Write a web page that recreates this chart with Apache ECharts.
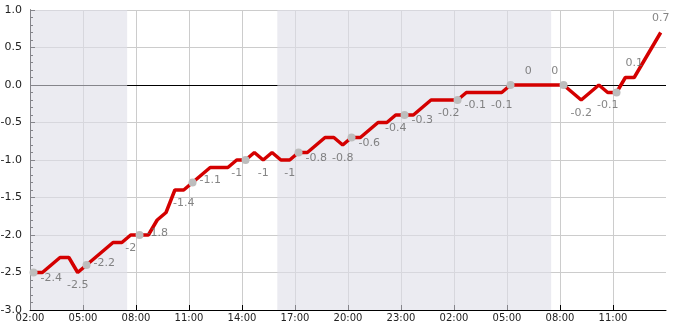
<!DOCTYPE html>
<html>
<head>
<meta charset="utf-8">
<script src="https://cdn.jsdelivr.net/npm/echarts/dist/echarts.min.js"></script>
<style>
html,body{margin:0;padding:0;background:#fff;}
#chart{width:685px;height:330px;}
</style>
</head>
<body>
<div id="chart"></div>
<script>
// Observation times (day 1 from 02:12, rolls over midnight into day 2)
const times = ['02:12','02:42','03:12','03:42','04:12','04:42','05:12','05:42','06:12','06:42',
  '07:12','07:42','08:12','08:42','09:12','09:42','10:12','10:42','11:12','11:42',
  '12:12','12:42','13:12','13:42','14:12','14:42','15:12','15:42','16:12','16:42',
  '17:12','17:42','18:12','18:42','19:12','19:42','20:12','20:42','21:12','21:42',
  '22:12','22:42','23:12','23:42','00:12','00:42','01:12','01:42','02:12','02:42',
  '03:12','03:42','04:12','04:42','05:12','05:42','06:12','06:42','07:12','07:42',
  '08:12','08:42','09:12','09:42','10:12','10:42','11:12','11:42','12:12','12:42',
  '13:12','13:42'];
// Temperature values
const values = [-2.5,-2.5,-2.4,-2.3,-2.3,-2.5,-2.4,-2.3,-2.2,-2.1,
  -2.1,-2.0,-2.0,-2.0,-1.8,-1.7,-1.4,-1.4,-1.3,-1.2,
  -1.1,-1.1,-1.1,-1.0,-1.0,-0.9,-1.0,-0.9,-1.0,-1.0,
  -0.9,-0.9,-0.8,-0.7,-0.7,-0.8,-0.7,-0.7,-0.6,-0.5,
  -0.5,-0.4,-0.4,-0.4,-0.3,-0.2,-0.2,-0.2,-0.2,-0.1,
  -0.1,-0.1,-0.1,-0.1,0,0,0,0,0,0,
  0,-0.1,-0.2,-0.1,0,-0.1,-0.1,0.1,0.1,0.3,
  0.5,0.7];
// Night periods (start, end) as day/time
const nightStarts = ['1 02:00','1 16:00'];
const nightEnds   = ['1 07:30','2 07:30'];
// Axis range
const axisStart = '1 02:00';
const axisEnd = '2 14:00';
const yTicks = [-3,-2.5,-2,-1.5,-1,-0.5,0,0.5,1];

function dayTimeToH(s){
  const [d,t] = s.split(' ');
  const [h,m] = t.split(':').map(Number);
  return (Number(d)-1)*24 + h + m/60 - 2;
}
const xs = [];
let day = 1, prevH = -1;
times.forEach(t=>{
  const h = Number(t.split(':')[0]);
  if (h < prevH) day++;
  prevH = h;
  xs.push(dayTimeToH(day+' '+t));
});
const lineData = xs.map((x,i)=>[x, values[i]]);
const dotData = lineData.filter((d,i)=>i%6===0);
const labelData = lineData.filter((d,i)=>i%3===2).map(d=>({
  value: d,
  label: { offset: d[1] >= 0 ? [0,-14] : [0,13] }
}));
const bands = nightStarts.map((s,i)=>[{xAxis: dayTimeToH(s)},{xAxis: dayTimeToH(nightEnds[i])}]);

function fmtX(v){
  const h = Math.round(v + 2) % 24;
  return (h<10?'0':'') + h + ':00';
}

const chart = echarts.init(document.getElementById('chart'), null, {renderer:'canvas'});
chart.setOption({
  animation: false,
  textStyle: { fontFamily: 'DejaVu Sans' },
  grid: { left: 30, top: 10, right: 19, bottom: 20, containLabel: false, outerBoundsMode: 'none' },
  xAxis: {
    type: 'value',
    min: dayTimeToH(axisStart),
    max: dayTimeToH(axisEnd),
    interval: 3,
    axisLine: { show: true, onZero: false, lineStyle: { color: '#000', width: 1 } },
    axisTick: { show: true, inside: true, length: 5, lineStyle: { color: '#000' } },
    axisLabel: { formatter: fmtX, color: '#222', fontSize: 10, margin: 3, showMaxLabel: false, showMinLabel: true },
    splitLine: { show: true, showMaxLine: false, lineStyle: { color: '#cccccc', width: 1 } }
  },
  yAxis: {
    type: 'value',
    min: yTicks[0],
    max: yTicks[yTicks.length-1],
    interval: 0.5,
    axisLine: { show: true, lineStyle: { color: '#000', width: 1 } },
    axisTick: { show: true, inside: true, length: 5, lineStyle: { color: '#000' } },
    minorTick: { show: true, splitNumber: 5, length: 3, lineStyle: { color: '#000' } },
    axisLabel: { formatter: v => v.toFixed(1), color: '#222', fontSize: 11, margin: 8 },
    splitLine: { show: true, lineStyle: { color: '#cccccc', width: 1 } }
  },
  series: [
    {
      type: 'line',
      name: 'bands',
      data: [],
      markArea: {
        silent: true,
        z: 2,
        itemStyle: { color: 'rgba(222,222,232,0.6)' },
        data: bands
      },
      markLine: {
        silent: true,
        z: 1,
        symbol: 'none',
        label: { show: false },
        lineStyle: { color: '#000', width: 1, type: 'solid' },
        data: [{ yAxis: 0 }]
      }
    },
    {
      type: 'line',
      name: 'temp',
      z: 3,
      data: lineData,
      showSymbol: false,
      lineStyle: { color: '#d40000', width: 3.5 },
      itemStyle: { color: '#d40000' }
    },
    {
      type: 'scatter',
      name: 'obs',
      z: 6,
      data: dotData,
      symbol: 'circle',
      symbolSize: 8,
      itemStyle: { color: '#bdbdbd', opacity: 1 }
    },
    {
      type: 'scatter',
      name: 'labels',
      z: 7,
      data: labelData,
      symbolSize: 1,
      itemStyle: { color: 'rgba(0,0,0,0)' },
      label: {
        show: true,
        position: 'inside',
        formatter: p => String(Math.round(p.value[1]*10)/10),
        color: '#666',
        fontSize: 11
      }
    }
  ]
});
</script>
</body>
</html>
